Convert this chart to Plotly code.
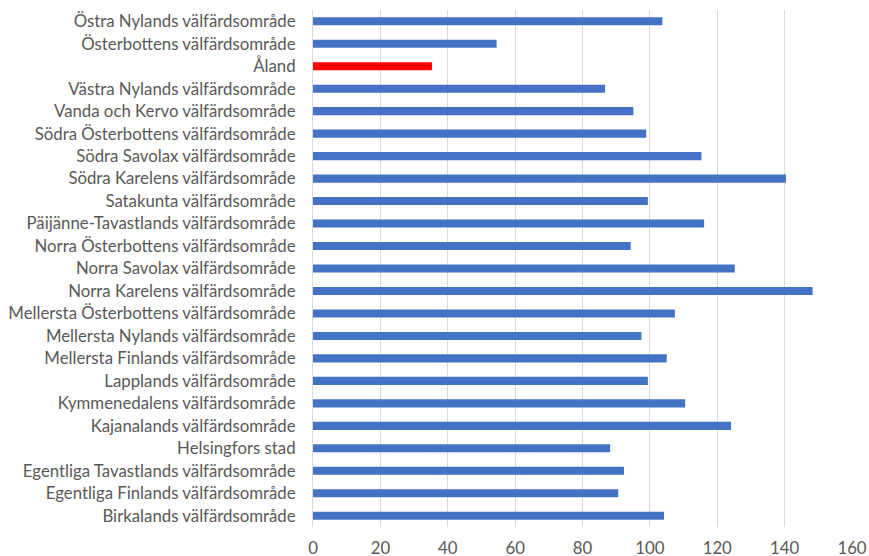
import plotly.graph_objects as go

# categories listed bottom -> top (plotly draws the first category at the bottom)
regions = [
    "Birkalands välfärdsområde",
    "Egentliga Finlands välfärdsområde",
    "Egentliga Tavastlands välfärdsområde",
    "Helsingfors stad",
    "Kajanalands välfärdsområde",
    "Kymmenedalens välfärdsområde",
    "Lapplands välfärdsområde",
    "Mellersta Finlands välfärdsområde",
    "Mellersta Nylands välfärdsområde",
    "Mellersta Österbottens välfärdsområde",
    "Norra Karelens välfärdsområde",
    "Norra Savolax välfärdsområde",
    "Norra Österbottens välfärdsområde",
    "Päijänne-Tavastlands välfärdsområde",
    "Satakunta välfärdsområde",
    "Södra Karelens välfärdsområde",
    "Södra Savolax välfärdsområde",
    "Södra Österbottens välfärdsområde",
    "Vanda och Kervo välfärdsområde",
    "Västra Nylands välfärdsområde",
    "Åland",
    "Österbottens välfärdsområde",
    "Östra Nylands välfärdsområde",
]
values = [
    104.2, 90.6, 92.3, 88.2, 124.1, 110.5, 99.4, 105.0, 97.5, 107.4,
    148.3, 125.2, 94.3, 116.1, 99.4, 140.4, 115.3, 98.9, 95.1, 86.7,
    35.3, 54.5, 103.7,
]
highlight = "Åland"
x_ticks = [0, 20, 40, 60, 80, 100, 120, 140, 160]

colors = ["#FF0000" if r == highlight else "#4472C4" for r in regions]

fig = go.Figure(
    go.Bar(
        x=values,
        y=regions,
        orientation="h",
        marker=dict(color=colors, line=dict(width=0)),
    )
)

fig.update_layout(
    width=869,
    height=556,
    plot_bgcolor="white",
    paper_bgcolor="white",
    font=dict(family="Lato, Calibri, sans-serif", color="#595959", size=16.8),
    margin=dict(l=313, r=17, t=10, b=29),
    bargap=0.64,
    showlegend=False,
    hovermode=False,
)
fig.update_xaxes(
    range=[0, 160],
    tickvals=x_ticks,
    showgrid=True,
    gridcolor="#D9D9D9",
    gridwidth=1,
    zeroline=False,
    showline=False,
    ticks="",
    automargin=False,
    ticklabelstandoff=9,
    fixedrange=True,
)
fig.update_yaxes(
    type="category",
    categoryorder="array",
    categoryarray=regions,
    showgrid=False,
    showline=True,
    linecolor="#D9D9D9",
    ticks="",
    automargin=False,
    ticklabelstandoff=13,
    fixedrange=True,
)

# drop the browser's default body margin so the figure sits at the window corner
fig.write_html(
    "out.html",
    config={"displayModeBar": False},
    post_script="document.body.style.margin='0';",
)
